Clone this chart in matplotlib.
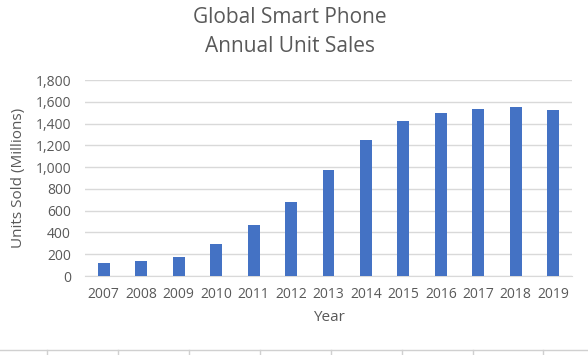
import matplotlib.pyplot as plt
from matplotlib.lines import Line2D
from matplotlib.ticker import FuncFormatter

years = ["2007", "2008", "2009", "2010", "2011", "2012", "2013",
         "2014", "2015", "2016", "2017", "2018", "2019"]
units = [122.3, 139.3, 172.4, 296.6, 472.0, 680.1, 969.7,
         1244.7, 1423.9, 1495.4, 1536.5, 1556.3, 1524.0]

plt.rcParams["font.family"] = ["Open Sans", "DejaVu Sans"]
gray = "#595959"

fig = plt.figure(figsize=(5.88, 3.55), dpi=100)
ax = fig.add_axes([85 / 588, 1 - 276 / 355, 487 / 588, 196 / 355])

x = range(len(years))
ax.bar(x, units, width=0.32, color="#4472C4", zorder=3)

ax.set_xlim(-0.5, len(years) - 0.5)
ax.set_ylim(0, 1800)
ax.set_yticks(range(0, 1801, 200))
ax.yaxis.set_major_formatter(FuncFormatter(lambda v, p: f"{int(v):,}"))
ax.set_xticks(list(x))
ax.set_xticklabels(years)

ax.grid(axis="y", color="#D9D9D9", linewidth=1, zorder=0)
for s in ["top", "right", "left"]:
    ax.spines[s].set_visible(False)
ax.spines["bottom"].set_color("#D9D9D9")
ax.tick_params(length=0, labelsize=10, colors=gray)
ax.tick_params(axis="x", pad=8)
ax.tick_params(axis="y", pad=10)

ax.set_xlabel("Year", fontsize=11, color=gray, labelpad=6)
ax.set_ylabel("Units Sold (Millions)", fontsize=11, color=gray, labelpad=7)
fig.text(0.493, 1 - 32 / 355, "Global Smart Phone\nAnnual Unit Sales",
         ha="center", va="center", fontsize=15, color=gray, linespacing=1.45)

# spreadsheet cell borders peeking in at the bottom
fig.add_artist(Line2D([0, 1], [1 - 350 / 355] * 2, color="#D0D0D0", lw=1))
for px in [47, 118, 189, 260, 331, 402, 473, 543]:
    fig.add_artist(Line2D([px / 588] * 2, [0, 1 - 350 / 355],
                          color="#D0D0D0", lw=1))

plt.savefig("out.png")
plt.close()
